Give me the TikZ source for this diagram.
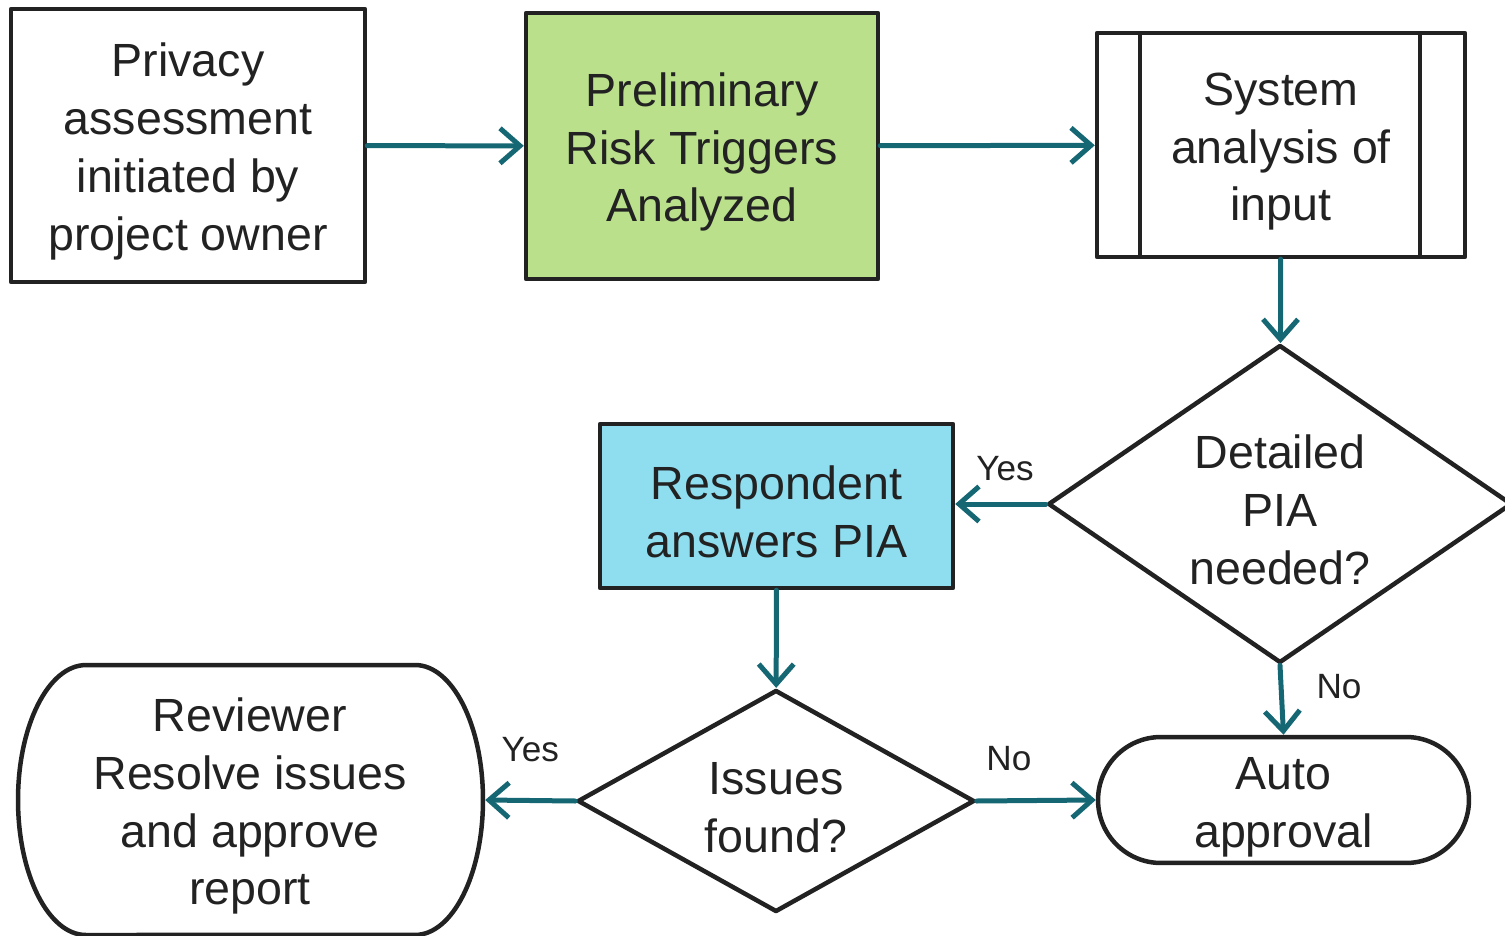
\documentclass[tikz,border=0pt]{standalone}
\usepackage{fontspec}
\setmainfont{Liberation Sans}
\usetikzlibrary{arrows.meta,shapes.geometric}
\definecolor{flowteal}{RGB}{21,103,116}
\definecolor{stepgreen}{RGB}{186,224,140}
\definecolor{stepcyan}{RGB}{142,222,240}
\definecolor{inkgray}{RGB}{34,34,34}
% extra room above the first line, as the slide centres its text a bit lower
\newcommand{\firststrut}{\rule{0pt}{26pt}}
\tikzset{
	boxline/.style={draw=inkgray, line width=0.09cm, line join=round},
	stepbox/.style={boxline, rectangle, align=center, text=inkgray, inner sep=0pt,
		font=\fontsize{26.5}{33}\selectfont},
	decision/.style={stepbox, diamond},
	flowarrow/.style={draw=flowteal, line width=0.1cm, line cap=round, line join=round,
		-{Straight Barb[length=0.4cm,width=0.7cm]}},
	arrowlbl/.style={text=inkgray, inner sep=0pt, font=\fontsize{20}{24}\selectfont},
}

\begin{document}
\begin{tikzpicture}[x=0.02cm, y=-0.02cm]
		%%%%% START %%%%%
		\useasboundingbox (0, 0) rectangle (1505, 936);
		
		% top row
		\node[stepbox, minimum width=7.08cm, minimum height=5.46cm] (owner) at (188, 145.5)
			{\firststrut Privacy\\assessment\\initiated by\\project owner};
		\node[stepbox, fill=stepgreen, minimum width=7.04cm, minimum height=5.32cm] (triggers) at (702, 146)
			{\firststrut Preliminary\\Risk Triggers\\Analyzed};
		\node[stepbox, minimum width=7.36cm, minimum height=4.48cm] (sysinput) at (1281, 145)
			{\firststrut System\\analysis of\\input};
		\draw[boxline] ([xshift=0.9cm]sysinput.north west) -- ([xshift=0.9cm]sysinput.south west);
		\draw[boxline] ([xshift=-0.94cm]sysinput.north east) -- ([xshift=-0.94cm]sysinput.south east);
		
		% middle row
		\node[decision, aspect=1.5, minimum width=9.28cm, minimum height=6.36cm] (needpia) at (1280, 504)
			{\firststrut Detailed\\PIA\\needed?};
		\node[stepbox, fill=stepcyan, minimum width=7.06cm, minimum height=3.28cm] (respond) at (776.5, 506)
			{\firststrut Respondent\\answers PIA};
		
		% bottom row
		\node[decision, aspect=1.8, minimum width=7.94cm, minimum height=4.44cm] (issues) at (776, 801)
			{\firststrut Issues\\found?};
		\node[stepbox, draw=none, minimum width=9.32cm, minimum height=5.4cm] (review) at (250, 800)
			{\firststrut Reviewer\\Resolve issues\\and approve\\report};
		\draw[boxline] (86, 665) -- (415, 665)
			arc[start angle=90, end angle=-90, x radius=1.36cm, y radius=2.7cm]
			-- (86, 935)
			arc[start angle=270, end angle=90, x radius=1.36cm, y radius=2.7cm] -- cycle;
		\node[stepbox, rounded corners=1.26cm, minimum width=7.42cm, minimum height=2.52cm] (auto) at (1283.5, 800)
			{\firststrut Auto\\approval};
		
		% connectors
		\draw[flowarrow] (owner) -- (triggers);
		\draw[flowarrow] (triggers) -- (sysinput);
		\draw[flowarrow] (sysinput) -- (needpia);
		\draw[flowarrow] (needpia.west) -- node[arrowlbl, pos=0.45, anchor=south, yshift=0.42cm] {Yes} (respond.east |- needpia.west);
		\draw[flowarrow] (needpia.south) -- node[arrowlbl, pos=0.3, anchor=west, xshift=0.66cm] {No} (auto.north);
		\draw[flowarrow] (respond) -- (issues);
		\draw[flowarrow] (issues.west) -- node[arrowlbl, pos=0.5, anchor=south, yshift=0.72cm] {Yes} (review.east);
		\draw[flowarrow] (issues.east) -- node[arrowlbl, pos=0.27, anchor=south, yshift=0.54cm] {No} (auto.west);
		
		%%%%% END %%%%%
	\end{tikzpicture}
\end{document}
